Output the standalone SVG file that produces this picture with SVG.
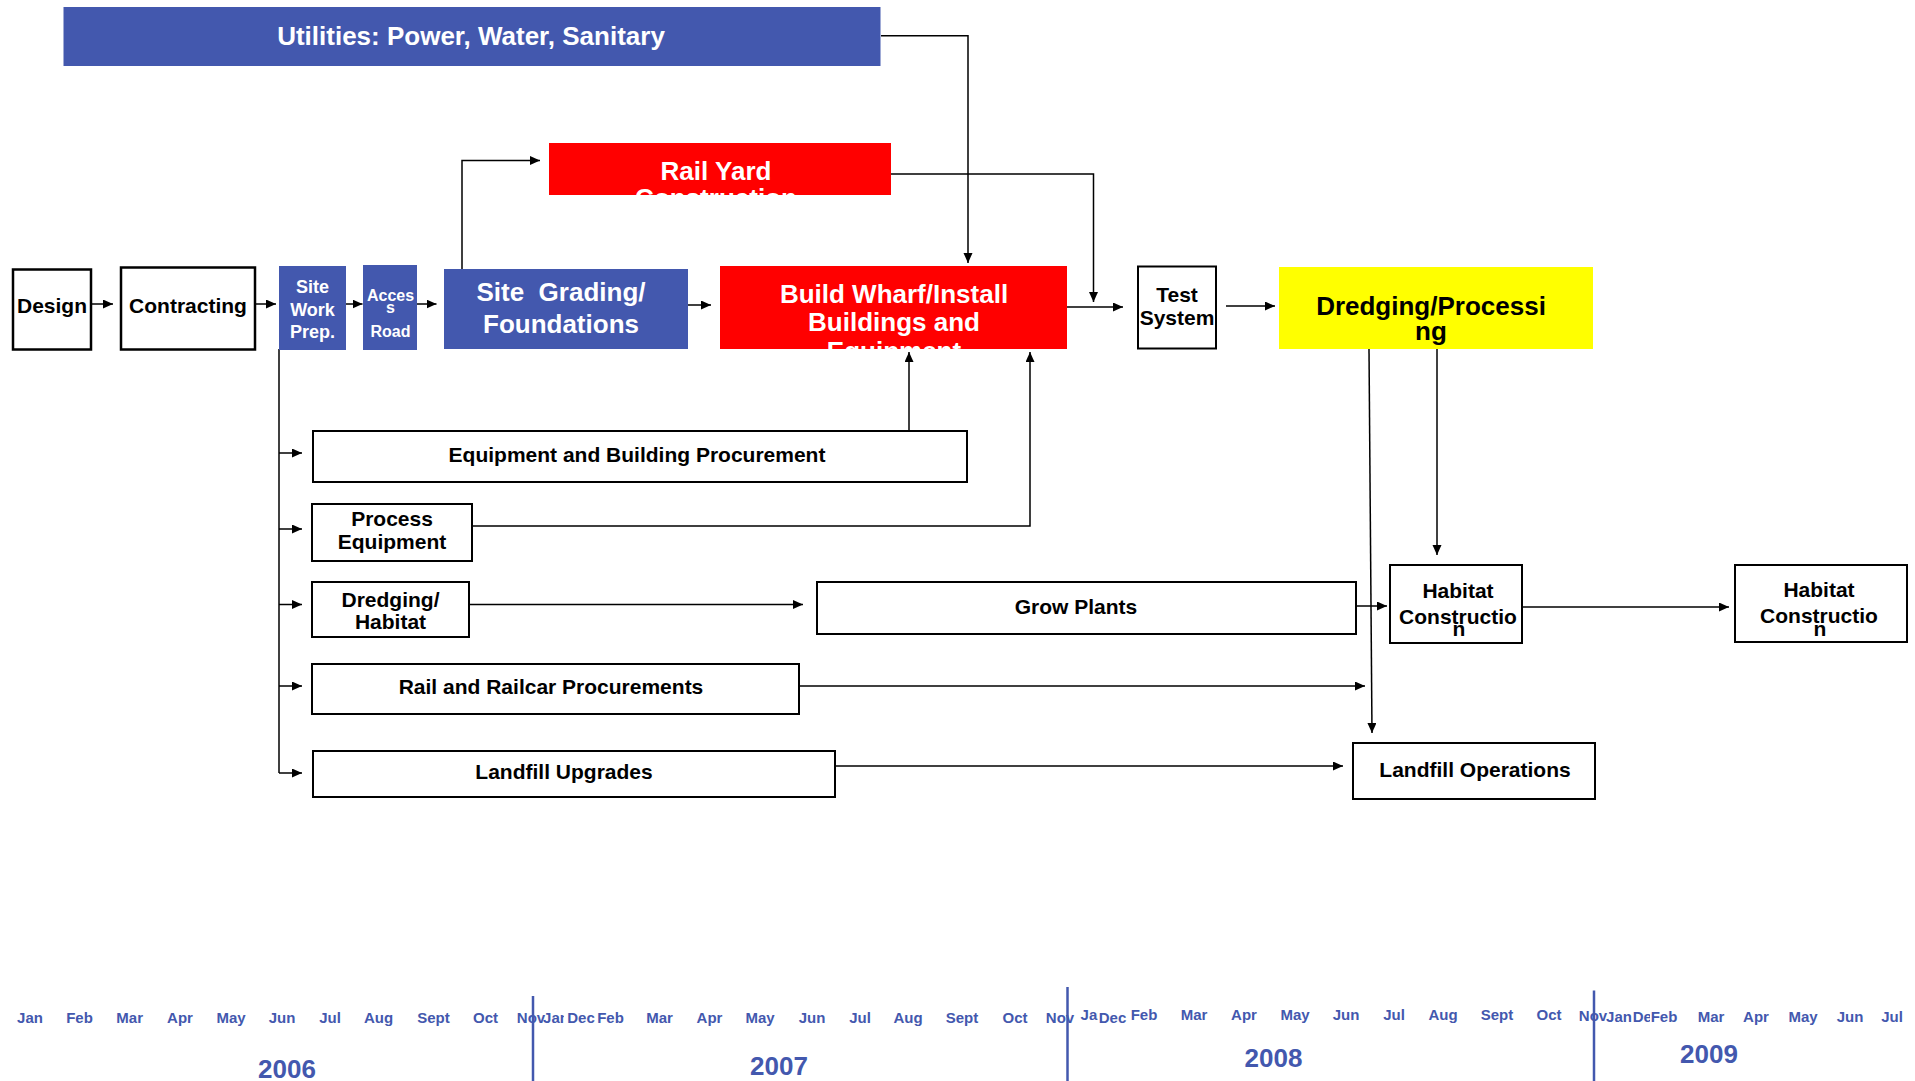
<svg xmlns="http://www.w3.org/2000/svg" width="1915" height="1081" viewBox="0 0 1915 1081">
<style>
text { font-family: "Liberation Sans", Arial, sans-serif; font-weight: bold; text-anchor: middle; }
.wb { fill: #fff; stroke: #000; stroke-width: 2; }
.blue { fill: #4358AE; }
.red { fill: #FF0000; }
.yel { fill: #FFFF00; }
.tw { fill: #fff; }
.tk { fill: #000; }
.f26 { font-size: 26px; }
.f21 { font-size: 21px; }
.conn path { fill: none; stroke: #000; stroke-width: 1.5; marker-end: url(#ah); }
.conn path.plain { marker-end: none; }
.mo { fill: #4358AE; font-size: 15px; }
.yr { fill: #4358AE; font-size: 26px; }
.tl { stroke: #4358AE; stroke-width: 2.5; }
</style>
<defs>
<marker id="ah" markerUnits="userSpaceOnUse" markerWidth="11" markerHeight="10" refX="10" refY="4.5" orient="auto">
<path d="M0,0 L10,4.5 L0,9 z" fill="#000"/>
</marker>
<clipPath id="clipRail"><rect x="549" y="143" width="342" height="52"/></clipPath>
<clipPath id="clipWharf"><rect x="720" y="266" width="347" height="83"/></clipPath>
</defs>

<g id="connectors" class="conn">
<path d="M92,304 H113"/>
<path d="M256,304 H276"/>
<path d="M346,304 H362.5"/>
<path d="M417,304 H436.5"/>
<path d="M688,305 H711"/>
<path d="M1067,307 H1123"/>
<path d="M1226,306 H1275"/>
<path d="M462,269 V160.5 H540"/>
<path d="M881,35.7 H968 V263"/>
<path d="M891,174 H1093.5 V302"/>
<path d="M909,431 V352"/>
<path d="M472,526 H1030 V352"/>
<path class="plain" d="M279,349 V773"/>
<path d="M279,453 H302"/>
<path d="M279,529 H302"/>
<path d="M279,604.5 H302"/>
<path d="M279,686 H302"/>
<path d="M279,773 H302"/>
<path d="M469,604.5 H803"/>
<path d="M1356,606 H1387"/>
<path d="M799,686 H1365"/>
<path d="M835,766 H1343"/>
<path d="M1369,349 L1372,733"/>
<path d="M1437,349 V555"/>
<path d="M1522,607 H1729"/>
</g>

<g id="utilities">
<rect class="blue" x="63.5" y="7" width="817" height="59"/>
<text class="tw f26" x="471" y="45">Utilities: Power, Water, Sanitary</text>
</g>

<g id="rail-yard">
<rect class="red" x="549" y="143" width="342" height="52"/>
<g clip-path="url(#clipRail)">
<text class="tw f26" x="716" y="180">Rail Yard</text>
<text class="tw f26" x="716" y="207">Construction</text>
</g>
</g>

<g id="design">
<rect class="wb" x="13" y="269.5" width="78" height="80" style="stroke-width:2.5"/>
<text class="tk f21" x="52" y="313">Design</text>
</g>

<g id="contracting">
<rect class="wb" x="121" y="267.5" width="134" height="82" style="stroke-width:2.5"/>
<text class="tk f21" x="188" y="313">Contracting</text>
</g>

<g id="site-work-prep">
<rect class="blue" x="279" y="266" width="67" height="84"/>
<text class="tw" style="font-size:18px" x="312.5" y="293.3">Site</text>
<text class="tw" style="font-size:18px" x="312.5" y="315.7">Work</text>
<text class="tw" style="font-size:18px" x="312.5" y="338.3">Prep.</text>
</g>

<g id="access-road">
<rect class="blue" x="363" y="265" width="54" height="85"/>
<text class="tw" style="font-size:16px" x="390.5" y="300.7">Acces</text>
<text class="tw" style="font-size:16px" x="390.5" y="312.7">s</text>
<text class="tw" style="font-size:16px" x="390.5" y="337">Road</text>
</g>

<g id="site-grading">
<rect class="blue" x="444" y="269" width="244" height="80"/>
<text class="tw f26" x="561" y="301" xml:space="preserve">Site  Grading/</text>
<text class="tw f26" x="561" y="333">Foundations</text>
</g>

<g id="build-wharf">
<rect class="red" x="720" y="266" width="347" height="83"/>
<g clip-path="url(#clipWharf)">
<text class="tw f26" x="894" y="302.5">Build Wharf/Install</text>
<text class="tw f26" x="894" y="331">Buildings and</text>
<text class="tw f26" x="894" y="360">Equipment</text>
</g>
</g>

<g id="test-system">
<rect class="wb" x="1138" y="266.5" width="78" height="82"/>
<text class="tk f21" x="1177" y="301.7">Test</text>
<text class="tk f21" x="1177" y="325">System</text>
</g>

<g id="dredging-processing">
<rect class="yel" x="1279" y="267" width="314" height="82"/>
<text class="tk" style="font-size:26px" x="1431" y="315">Dredging/Processi</text>
<text class="tk" style="font-size:26px" x="1431" y="340">ng</text>
</g>

<g id="equipment-building-procurement">
<rect class="wb" x="313" y="431" width="654" height="51"/>
<text class="tk f21" x="637" y="462">Equipment and Building Procurement</text>
</g>

<g id="process-equipment">
<rect class="wb" x="312" y="504" width="160" height="57"/>
<text class="tk f21" x="392" y="526">Process</text>
<text class="tk f21" x="392" y="549">Equipment</text>
</g>

<g id="dredging-habitat">
<rect class="wb" x="312" y="582" width="157" height="55"/>
<text class="tk f21" x="390.5" y="607">Dredging/</text>
<text class="tk f21" x="390.5" y="629">Habitat</text>
</g>

<g id="grow-plants">
<rect class="wb" x="817" y="582" width="539" height="52"/>
<text class="tk f21" x="1076" y="614">Grow Plants</text>
</g>

<g id="rail-railcar-procurements">
<rect class="wb" x="312" y="664" width="487" height="50"/>
<text class="tk f21" x="551" y="694">Rail and Railcar Procurements</text>
</g>

<g id="landfill-upgrades">
<rect class="wb" x="313" y="751" width="522" height="46"/>
<text class="tk f21" x="564" y="779">Landfill Upgrades</text>
</g>

<g id="habitat-construction-1">
<rect class="wb" x="1390" y="565" width="132" height="78"/>
<text class="tk f21" x="1458" y="598">Habitat</text>
<text class="tk f21" x="1458" y="624">Constructio</text>
<text class="tk f21" x="1459" y="636">n</text>
</g>

<g id="habitat-construction-2">
<rect class="wb" x="1735" y="565" width="172" height="77"/>
<text class="tk f21" x="1819" y="597">Habitat</text>
<text class="tk f21" x="1819" y="623">Constructio</text>
<text class="tk f21" x="1820" y="636">n</text>
</g>

<g id="landfill-operations">
<rect class="wb" x="1353" y="743" width="242" height="56"/>
<text class="tk f21" x="1475" y="777">Landfill Operations</text>
</g>

<g id="timeline">
<g class="mo">
<text x="30" y="1023">Jan</text>
<text x="79.5" y="1023">Feb</text>
<text x="129.7" y="1023">Mar</text>
<text x="180" y="1023">Apr</text>
<text x="231" y="1023">May</text>
<text x="282" y="1023">Jun</text>
<text x="330" y="1023">Jul</text>
<text x="378.5" y="1023">Aug</text>
<text x="433.5" y="1023">Sept</text>
<text x="485.5" y="1023">Oct</text>
<text x="531" y="1023">Nov</text>
<text x="556" y="1023">Jan</text>
<rect x="564" y="1008" width="33" height="19" fill="#fff"/>
<text x="581" y="1023">Dec</text>
<text x="610.5" y="1023">Feb</text>
<text x="659.5" y="1023">Mar</text>
<text x="709.5" y="1023">Apr</text>
<text x="760" y="1023">May</text>
<text x="812" y="1023">Jun</text>
<text x="860" y="1023">Jul</text>
<text x="908" y="1023">Aug</text>
<text x="962" y="1023">Sept</text>
<text x="1015" y="1023">Oct</text>
<text x="1060" y="1023">Nov</text>
<text x="1093.5" y="1019.5">Jan</text>
<rect x="1098" y="1006" width="29" height="20" fill="#fff"/>
<text x="1112.5" y="1022.7">Dec</text>
<text x="1144" y="1020">Feb</text>
<text x="1194" y="1020">Mar</text>
<text x="1244" y="1020">Apr</text>
<text x="1295" y="1020">May</text>
<text x="1346" y="1020">Jun</text>
<text x="1394" y="1020">Jul</text>
<text x="1443" y="1020">Aug</text>
<text x="1497" y="1020">Sept</text>
<text x="1549" y="1020">Oct</text>
<text x="1593" y="1020.5">Nov</text>
<text x="1619" y="1021.5">Jan</text>
<text x="1646.5" y="1021.5">Dec</text>
<rect x="1650" y="1006" width="27" height="20" fill="#fff"/>
<text x="1664" y="1021.5">Feb</text>
<text x="1711" y="1021.5">Mar</text>
<text x="1756" y="1021.5">Apr</text>
<text x="1803" y="1021.5">May</text>
<text x="1850" y="1021.5">Jun</text>
<text x="1892" y="1021.5">Jul</text>
</g>
<line class="tl" x1="533" y1="996" x2="533" y2="1081"/>
<line class="tl" x1="1067.5" y1="987" x2="1067.5" y2="1081"/>
<line class="tl" x1="1594" y1="990.5" x2="1594" y2="1081"/>
<text class="yr" x="287" y="1077.5">2006</text>
<text class="yr" x="779" y="1075">2007</text>
<text class="yr" x="1273.5" y="1066.5">2008</text>
<text class="yr" x="1709" y="1063">2009</text>
</g>
</svg>
